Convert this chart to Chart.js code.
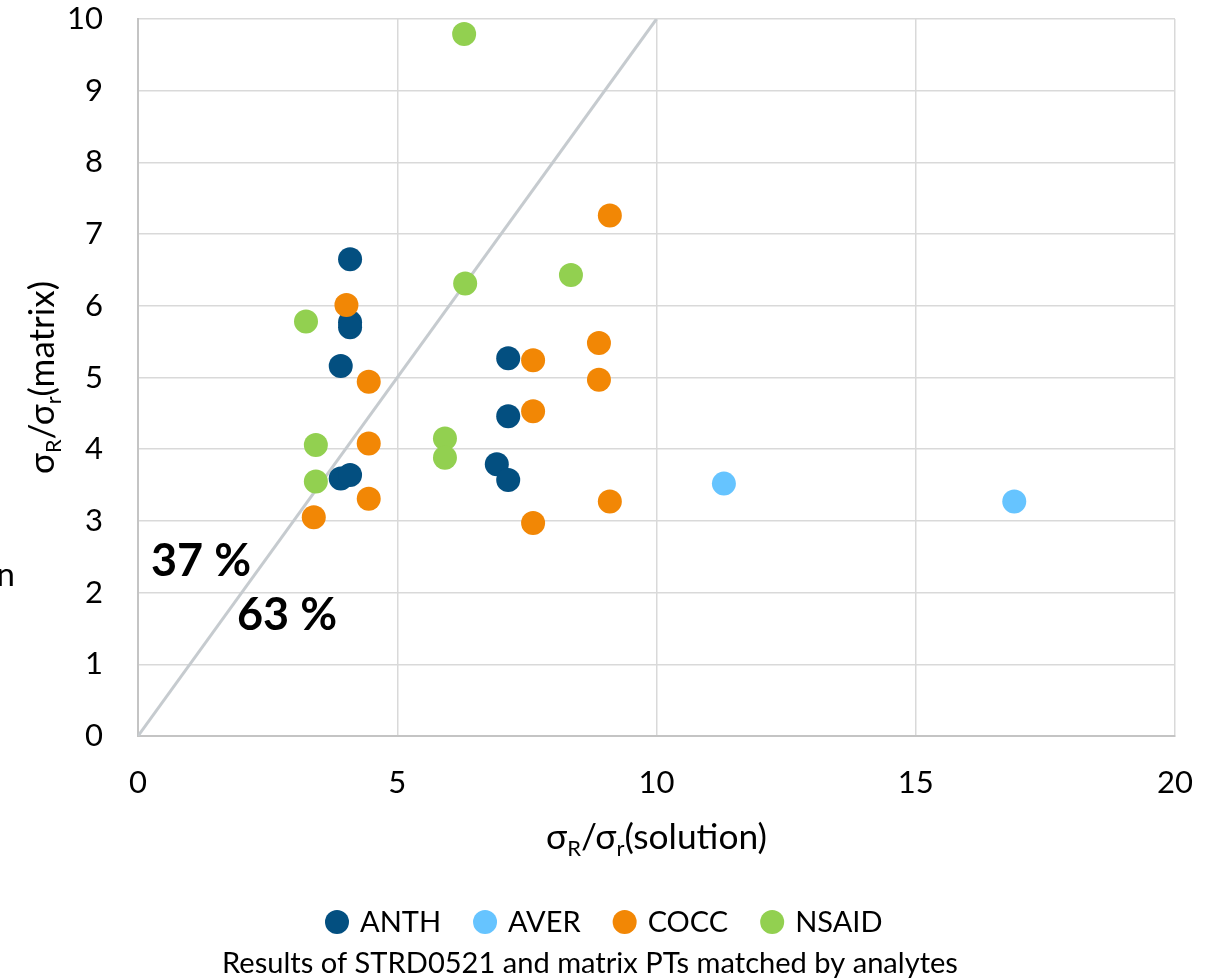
<!DOCTYPE html>
<html>
<head>
<meta charset="utf-8">
<script src="https://cdn.jsdelivr.net/npm/chart.js@4"></script>
<style>
html,body{margin:0;padding:0;background:#fff;}
#wrap{width:1219px;height:980px;position:relative;}
canvas{display:block;}
</style>
</head>
<body>
<div id="wrap"><canvas id="c" width="1219" height="980"></canvas></div>
<script>
// ---- data ----
const categories = ['ANTH', 'AVER', 'COCC', 'NSAID'];
const colors = ['#034F80', '#66C4FF', '#F28705', '#92D050'];

const anthX = [4.09, 4.09, 4.09, 3.91, 3.91, 4.09, 7.14, 7.14, 6.92, 7.14];
const anthY = [6.65, 5.77, 5.70, 5.16, 3.59, 3.64, 5.27, 4.46, 3.79, 3.57];

const averX = [11.30, 16.90];
const averY = [3.52, 3.27];

const coccX = [4.02, 4.45, 4.45, 4.45, 3.39, 9.10, 8.89, 8.89, 7.62, 7.62, 7.62, 9.10];
const coccY = [6.01, 4.94, 4.08, 3.31, 3.05, 7.26, 5.48, 4.97, 5.24, 4.53, 2.97, 3.27];

const nsaidX = [6.29, 3.24, 3.43, 3.43, 6.31, 8.35, 5.92, 5.92];
const nsaidY = [9.79, 5.78, 4.06, 3.55, 6.31, 6.43, 4.15, 3.88];

const diagX = [0, 10];
const diagY = [0, 10];

const xTicks = [0, 5, 10, 15, 20];
const yTicks = [0, 1, 2, 3, 4, 5, 6, 7, 8, 9, 10];

const zoneLabels = ['37 %', '63 %'];
const chartTitle = 'Results of STRD0521 and matrix PTs matched by analytes';

// ---- build ----
function pts(xs, ys) { return xs.map((x, i) => ({ x: x, y: ys[i] })); }
const seriesX = [anthX, averX, coccX, nsaidX];
const seriesY = [anthY, averY, coccY, nsaidY];

const FONT = 'Lato';

const datasets = categories.map((name, i) => ({
  label: name,
  data: pts(seriesX[i], seriesY[i]),
  backgroundColor: colors[i],
  borderColor: colors[i],
  borderWidth: 0,
  pointRadius: 12,
  pointHoverRadius: 12,
  showLine: false,
  order: 4 - i
}));
datasets.push({
  label: 'diag',
  data: pts(diagX, diagY),
  borderColor: '#C6CBCF',
  borderWidth: 3,
  pointRadius: 0,
  showLine: true,
  fill: false,
  order: 10
});

function measureParts(ctx, parts, size) {
  const subSize = size * 0.62;
  return parts.map(p => {
    ctx.font = (p[1] ? subSize : size).toFixed(2) + 'px ' + FONT;
    return ctx.measureText(p[0]).width;
  });
}

function drawSubText(ctx, parts, cx, cy, targetWidth) {
  // parts: [text, isSub]; font size fitted to target width
  let size = 30;
  let w0 = measureParts(ctx, parts, size).reduce((a, b) => a + b, 0);
  size = size * targetWidth / w0;
  const subSize = size * 0.62;
  const widths = measureParts(ctx, parts, size);
  const total = widths.reduce((a, b) => a + b, 0);
  let x = cx - total / 2;
  ctx.textAlign = 'left';
  ctx.textBaseline = 'middle';
  parts.forEach((p, i) => {
    ctx.font = (p[1] ? subSize : size).toFixed(2) + 'px ' + FONT;
    ctx.fillText(p[0], x, p[1] ? cy + size * 0.32 : cy);
    x += widths[i];
  });
}

const textPlugin = {
  id: 'texts',
  afterDraw(chart) {
    const ctx = chart.ctx;
    const area = chart.chartArea;
    ctx.save();
    ctx.fillStyle = '#000';

    // x axis title
    drawSubText(ctx, [['σ', false], ['R', true], ['/σ', false], ['r', true], ['(solution)', false]],
      (area.left + area.right) / 2, 838, 221);

    // y axis title (rotated)
    ctx.save();
    ctx.translate(43, (area.top + area.bottom) / 2);
    ctx.rotate(-Math.PI / 2);
    drawSubText(ctx, [['σ', false], ['R', true], ['/σ', false], ['r', true], ['(matrix)', false]],
      0, 0, 193);
    ctx.restore();

    // zone labels
    ctx.fillStyle = '#000';
    ctx.font = 'bold 45px ' + FONT;
    ctx.textAlign = 'center';
    ctx.textBaseline = 'middle';
    ctx.fillText(zoneLabels[0], 201, 561);
    ctx.fillText(zoneLabels[1], 287, 615);

    // clipped glyph at left edge
    ctx.font = '33px ' + FONT;
    ctx.textAlign = 'right';
    ctx.textBaseline = 'alphabetic';
    ctx.fillText('n', 15, 586);

    // legend
    const lsize = 29, r = 12, gapDot = 11, gapItem = 32;
    ctx.font = lsize + 'px ' + FONT;
    const items = categories.map(c => ctx.measureText(c).width);
    let lx = 325;
    const ly = 922;
    ctx.textAlign = 'left';
    ctx.textBaseline = 'middle';
    categories.forEach((c, i) => {
      ctx.beginPath();
      ctx.fillStyle = colors[i];
      ctx.arc(lx + r, ly, r, 0, Math.PI * 2);
      ctx.fill();
      ctx.fillStyle = '#000';
      ctx.fillText(c, lx + 2 * r + gapDot, ly + 1);
      lx += 2 * r + gapDot + items[i] + gapItem;
    });

    // bottom title, fitted to width
    let ts = 26;
    ctx.font = ts + 'px ' + FONT;
    const tw = ctx.measureText(chartTitle).width;
    ts = ts * 736 / tw;
    ctx.font = ts.toFixed(2) + 'px ' + FONT;
    ctx.textAlign = 'center';
    ctx.fillText(chartTitle, 590, 964);
    ctx.restore();
  }
};

new Chart(document.getElementById('c'), {
  type: 'scatter',
  data: { datasets: datasets },
  options: {
    responsive: false,
    animation: false,
    events: [],
    layout: { padding: { top: 19, right: 44, left: 0, bottom: 0 } },
    plugins: { legend: { display: false }, title: { display: false }, tooltip: { enabled: false } },
    scales: {
      x: {
        type: 'linear', min: 0, max: 20,
        afterFit(s) { s.height = 244; },
        afterBuildTicks(s) { s.ticks = xTicks.map(v => ({ value: v })); },
        grid: { color: '#D9D9D9', lineWidth: 1.5, drawTicks: true, tickLength: 28, tickColor: 'rgba(0,0,0,0)' },
        border: { color: '#C4C4C4', width: 2 },
        ticks: { font: { family: FONT, size: 31 }, color: '#000', padding: 0 }
      },
      y: {
        type: 'linear', min: 0, max: 10,
        afterFit(s) { s.width = 138; },
        afterBuildTicks(s) { s.ticks = yTicks.map(v => ({ value: v })); },
        grid: { color: '#D9D9D9', lineWidth: 1.5, drawTicks: true, tickLength: 35, tickColor: 'rgba(0,0,0,0)' },
        border: { color: '#C4C4C4', width: 2 },
        ticks: { font: { family: FONT, size: 31 }, color: '#000', padding: 0 }
      }
    }
  },
  plugins: [textPlugin]
});
</script>
</body>
</html>
